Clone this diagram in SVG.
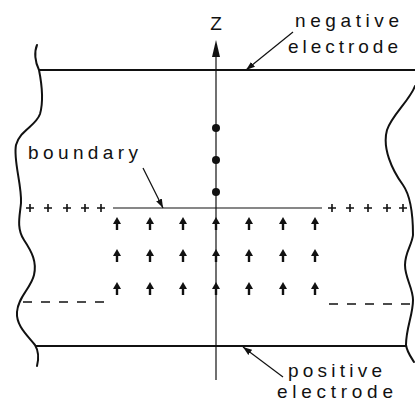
<svg xmlns="http://www.w3.org/2000/svg" width="415" height="402" viewBox="0 0 415 402">
<style>
  .lbl{font-family:"Liberation Sans",Arial,sans-serif;font-size:19px;fill:#111;}
  .wave{fill:none;stroke:#111;stroke-width:2;stroke-linecap:round;}
  .elec{stroke:#111;stroke-width:2;fill:none;}
  .thin{stroke:#111;stroke-width:1.2;fill:none;}
  .plus{stroke:#111;stroke-width:1.6;fill:none;}
  .dash{stroke:#111;stroke-width:1.6;fill:none;stroke-dasharray:9 9;}
  .lead{stroke:#111;stroke-width:1.2;fill:none;}
  .dot{fill:#111;}
</style>
<defs>
  <marker id="ah" viewBox="0 0 10 10" refX="10" refY="5" markerWidth="9" markerHeight="9" markerUnits="userSpaceOnUse" orient="auto">
    <path d="M0,1.5 L10,5 L0,8.5 Z" fill="#111"/>
  </marker>
  <g id="up">
    <path d="M0,0 L4,7 L-4,7 Z" fill="#111"/>
    <line x1="0" y1="5" x2="0" y2="13" stroke="#111" stroke-width="2.4"/>
  </g>
  <path id="pl" d="M-4,0 H4 M0,-4 V4" class="plus"/>
</defs>

<g id="cell-walls">
  <path class="wave" d="M37,45 C34,52 35,62 39,70 C41,80 44,100 40,114 C36,126 20,130 16,145 C13,160 22,185 21,203 C20,215 16,228 24,240 C32,252 37,262 34,275 C31,288 18,297 17,312 C16,325 26,334 35,345 C38,350 39,358 37,366"/>
  <path class="wave" d="M415,86 C410,100 392,115 387,130 C382,148 392,170 403,185 C410,195 413,215 413,235 C412,245 405,252 405,265 C405,278 413,288 413,300 C413,315 406,328 406,345 C407,352 411,357 414,362"/>
</g>

<g id="negative-electrode">
  <line class="elec" x1="39" y1="70" x2="415" y2="70"/>
</g>
<g id="positive-electrode">
  <line class="elec" x1="35" y1="346" x2="406" y2="346"/>
</g>

<g id="z-axis">
  <line class="thin" x1="216" y1="55" x2="216" y2="380"/>
  <path d="M216,40 L220,57 L212,57 Z" fill="#111"/>
  <text class="lbl" x="216" y="30" text-anchor="middle">Z</text>
  <circle class="dot" cx="216" cy="128" r="4"/>
  <circle class="dot" cx="216" cy="160" r="4"/>
  <circle class="dot" cx="216" cy="192" r="4"/>
</g>

<g id="boundary">
  <line x1="113" y1="208" x2="322" y2="208" stroke="#111" stroke-width="1.1"/>
</g>

<g id="plus-charges">
  <use href="#pl" x="30" y="208"/>
  <use href="#pl" x="48" y="208"/>
  <use href="#pl" x="67" y="208"/>
  <use href="#pl" x="85" y="208"/>
  <use href="#pl" x="101" y="208"/>
  <use href="#pl" x="332" y="208"/>
  <use href="#pl" x="350" y="208"/>
  <use href="#pl" x="368" y="208"/>
  <use href="#pl" x="387" y="208"/>
  <use href="#pl" x="403" y="208"/>
</g>

<g id="field-arrows">
  <use href="#up" x="117" y="217"/><use href="#up" x="150" y="217"/><use href="#up" x="183" y="217"/><use href="#up" x="216" y="217"/><use href="#up" x="249" y="217"/><use href="#up" x="283" y="217"/><use href="#up" x="315" y="217"/>
  <use href="#up" x="117" y="249"/><use href="#up" x="150" y="249"/><use href="#up" x="183" y="249"/><use href="#up" x="216" y="249"/><use href="#up" x="249" y="249"/><use href="#up" x="283" y="249"/><use href="#up" x="315" y="249"/>
  <use href="#up" x="117" y="282"/><use href="#up" x="150" y="282"/><use href="#up" x="183" y="282"/><use href="#up" x="216" y="282"/><use href="#up" x="249" y="282"/><use href="#up" x="283" y="282"/><use href="#up" x="315" y="282"/>
</g>

<g id="dashed-levels">
  <line class="dash" x1="23" y1="302" x2="104" y2="302"/>
  <line class="dash" x1="329" y1="304" x2="410" y2="304"/>
</g>

<g id="labels">
  <text class="lbl" x="295" y="27" textLength="104" lengthAdjust="spacing">negative</text>
  <text class="lbl" x="288" y="53" textLength="110" lengthAdjust="spacing">electrode</text>
  <text class="lbl" x="28" y="159" textLength="110" lengthAdjust="spacing">boundary</text>
  <text class="lbl" x="288" y="377" textLength="94" lengthAdjust="spacing">positive</text>
  <text class="lbl" x="277" y="398" textLength="116" lengthAdjust="spacing">electrode</text>
</g>

<g id="connectors">
  <line class="lead" x1="293" y1="32" x2="246" y2="70" marker-end="url(#ah)"/>
  <line class="lead" x1="143" y1="168" x2="163" y2="208" marker-end="url(#ah)"/>
  <line class="lead" x1="283" y1="377" x2="243" y2="347" marker-end="url(#ah)"/>
</g>
</svg>
